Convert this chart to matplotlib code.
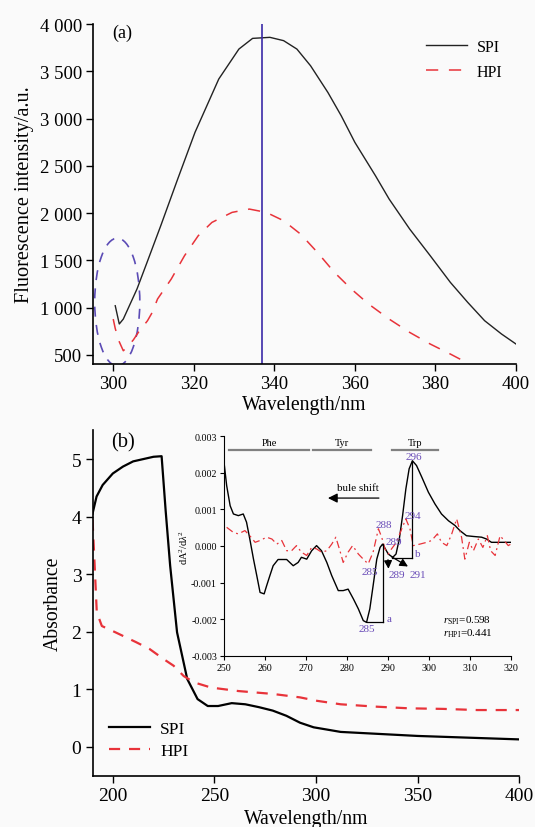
import matplotlib
matplotlib.use("Agg")
import matplotlib.pyplot as plt
from matplotlib.patches import Ellipse
from matplotlib.ticker import FuncFormatter

plt.rcParams['font.family'] = ['Liberation Serif', 'DejaVu Serif']
plt.rcParams['mathtext.fontset'] = 'custom'
plt.rcParams['mathtext.rm'] = 'Liberation Serif'
plt.rcParams['mathtext.it'] = 'Liberation Serif:italic'
plt.rcParams['axes.unicode_minus'] = False

# ---------------- Panel (a): fluorescence ----------------
wl_a_spi = [300.5, 301.5, 302.5, 305.9, 308.4, 311.8, 316.0, 320.3, 326.2, 331.2,
            334.6, 338.9, 342.3, 345.6, 349.0, 353.3, 356.6, 360.0, 365.1, 368.5,
            373.6, 378.7, 383.7, 388.0, 392.2, 396.4, 400.0]
spi_a = [1021, 828, 880, 1198, 1480, 1867, 2360, 2854, 3418, 3735,
         3848, 3859, 3824, 3735, 3558, 3276, 3030, 2748, 2396, 2149,
         1832, 1550, 1268, 1057, 863, 722, 616]
wl_a_hpi = [300.0, 300.5, 301.5, 302.5, 303.5, 305.0, 306.3, 308.5, 309.7, 311.0,
            314.4, 317.7, 321.1, 324.5, 329.5, 333.8, 338.0, 342.3, 346.5, 350.7,
            354.9, 359.1, 363.4, 368.5, 373.6, 378.7, 383.7, 387.6]
hpi_a = [880, 780, 640, 545, 585, 660, 743, 862, 951, 1092,
         1303, 1550, 1761, 1902, 2008, 2043, 2008, 1920, 1779, 1585,
         1374, 1198, 1039, 880, 739, 616, 510, 423]
peak_wl = 337
yticks_a = [500, 1000, 1500, 2000, 2500, 3000, 3500, 4000]
xticks_a = [300, 320, 340, 360, 380, 400]

# ---------------- Panel (b): absorbance ----------------
wl_b_spi = [190, 192, 195, 200, 205, 210, 215, 220, 224, 226, 228.2, 231.6, 236.6,
            241.7, 246.7, 251.8, 258.5, 265.2, 271.9, 278.7, 285.4, 292.1,
            298.8, 305.5, 312.1, 350, 400]
spi_b = [4.05, 4.35, 4.55, 4.75, 4.87, 4.96, 5.0, 5.04, 5.05, 4.1, 3.15, 1.99, 1.18,
         0.83, 0.71, 0.71, 0.76, 0.74, 0.69, 0.63, 0.54, 0.42,
         0.34, 0.30, 0.26, 0.19, 0.13]
wl_b_hpi = [190, 191, 192.1, 194.6, 201.3, 211.4, 218.1, 224.8, 229.9, 234.9, 240,
            248.4, 261.8, 278.7, 292.1, 300.5, 312.1, 328.9, 345.7, 362.5, 379.3, 400]
hpi_b = [3.95, 3.2, 2.34, 2.10, 1.99, 1.82, 1.70, 1.53, 1.41, 1.23, 1.12,
         1.03, 0.97, 0.92, 0.86, 0.80, 0.74, 0.70, 0.67, 0.66, 0.64, 0.64]
yticks_b = [0, 1, 2, 3, 4, 5]
xticks_b = [200, 250, 300, 350, 400]

# ---------------- Inset: second derivative (x1e-3) ----------------
wl_d_spi = [250, 250.65, 251.5, 252.3, 253.5, 254.7, 255.5, 256.3, 257.2, 258.0,
            258.8, 259.8, 260.4, 261.2, 262.0, 263.2, 265.3, 266.9, 268.1, 268.9,
            270.2, 271.4, 272.6, 273.8, 275.1, 276.3, 277.9, 279.1, 280.3, 281.6,
            282.8, 284.0, 284.8, 285.6, 286.4, 287.3, 288.1, 288.7, 289.4, 290.1,
            291.2, 292.0, 292.8, 293.6, 294.4, 295.2, 296.0, 297.0, 298.3, 299.9,
            301.5, 303.1, 304.8, 306.4, 307.6, 309.2, 310.9, 312.9, 314.1, 315.3, 320]
spi_d = [2.29, 1.65, 1.10, 0.875, 0.83, 0.875, 0.65, 0.19, -0.36, -0.81,
         -1.27, -1.31, -1.09, -0.81, -0.54, -0.37, -0.37, -0.54, -0.45, -0.31,
         -0.36, -0.13, 0.01, -0.13, -0.45, -0.81, -1.22, -1.22, -1.18, -1.45,
         -1.72, -2.04, -2.09, -1.72, -1.09, -0.36, -0.04, 0.05, -0.08, -0.22,
         -0.31, -0.22, 0.19, 0.83, 1.56, 2.11, 2.33, 2.2, 1.88, 1.47,
         1.15, 0.875, 0.69, 0.56, 0.42, 0.28, 0.26, 0.24, 0.19, 0.10, 0.10]
wl_d_hpi = [250.65, 252.3, 253.5, 255.1, 256.3, 257.6, 258.8, 260.4, 261.7, 262.9,
            264.1, 265.3, 266.5, 267.7, 268.9, 270.2, 271.4, 272.6, 273.8, 275.1,
            276.3, 277.3, 278.3, 279.1, 280.3, 281.4, 282.8, 284.0, 285.2, 286.4,
            287.7, 288.5, 289.3, 290.1, 290.9, 292.1, 293.4, 294.4, 295.4, 296.2,
            297.8, 299.5, 300.7, 302.1, 303.1, 304.4, 305.6, 306.8, 308.0, 308.8,
            309.9, 310.9, 312.1, 313.2, 314.3, 315.1, 316.2, 317.4, 318.4, 319.4, 320]
hpi_d = [0.51, 0.37, 0.33, 0.42, 0.28, 0.10, 0.15, 0.24, 0.19, 0.05,
         0.15, -0.13, -0.13, 0.01, -0.17, -0.26, -0.04, -0.08, -0.17, -0.13,
         0.05, 0.24, -0.13, -0.45, -0.17, 0.01, -0.22, -0.36, -0.49, -0.17,
         0.47, 0.24, -0.08, -0.22, -0.08, 0.10, 0.47, 0.74, 0.47, 0.01,
         0.05, 0.10, 0.15, 0.33, 0.10, 0.01, 0.33, 0.74, 0.24, -0.36,
         0.10, -0.13, 0.19, -0.04, 0.28, -0.13, -0.26, 0.28, 0.15, 0.01, 0.05]
yticks_d = [-3, -2, -1, 0, 1, 2, 3]
xticks_d = [250, 260, 270, 280, 290, 300, 310, 320]
regions = [("Phe", 251.3, 270.8), ("Tyr", 271.8, 286.0), ("Trp", 290.9, 302.3)]
peak_labels = [("296", 296.4, 2.45), ("294", 296.0, 0.83), ("288", 289.1, 0.60),
               ("289", 291.5, 0.13), ("285", 285.7, -0.70), ("289", 292.1, -0.77),
               ("291", 297.4, -0.77), ("285", 284.8, -2.27), ("a", 290.2, -1.98),
               ("b", 297.4, -0.20)]

BG = '#fafafa'
RED = '#e8333a'
PURPLE = '#6a4db8'
VLINE = '#3b2aa8'

fig = plt.figure(figsize=(5.35, 8.28), dpi=100, facecolor=BG)

# ---------- panel (a) ----------
ax1 = fig.add_axes([0.174, 0.5592, 0.7905, 0.4106], facecolor=BG)
ax1.plot(wl_a_spi, spi_a, color='#222222', lw=1.0, label='SPI')
ax1.plot(wl_a_hpi, hpi_a, color=RED, lw=1.1, dashes=(8, 7), label='HPI')
ax1.axvline(peak_wl, color=VLINE, lw=1.2)
ell = Ellipse((301.0, 1060), 11.2, 1350, fill=False, edgecolor='#5b4bb5',
              lw=1.2, ls=(0, (6, 5)))
ax1.add_patch(ell)
ax1.set_xlim(295.0, 400)
ax1.set_ylim(405, 4000)
ax1.set_xticks(xticks_a)
ax1.set_yticks(yticks_a)
ax1.yaxis.set_major_formatter(FuncFormatter(lambda v, p: f"{v:,.0f}".replace(",", " ")))
ax1.tick_params(labelsize=13.5, direction='out', length=5, width=1, pad=3)
for s in ['top', 'right']:
    ax1.spines[s].set_visible(False)
ax1.spines['left'].set_linewidth(1.2)
ax1.spines['bottom'].set_linewidth(1.2)
ax1.set_xlabel('Wavelength/nm', fontsize=14.2, labelpad=2)
ax1.set_ylabel('Fluorescence intensity/a.u.', fontsize=14.6, labelpad=4)
ax1.text(0.07, 0.976, '(a)', transform=ax1.transAxes, fontsize=13, ha='center', va='center')
ax1.legend(loc='upper left', bbox_to_anchor=(426/535, 1 - 40/828), bbox_transform=fig.transFigure,
           frameon=False, fontsize=11.5, handlelength=2.56, handletextpad=0.62,
           borderpad=0, borderaxespad=0, labelspacing=0.56)

# ---------- panel (b) ----------
ax2 = fig.add_axes([0.1729, 0.0620, 0.7978, 0.4178], facecolor=BG)
ax2.plot(wl_b_spi, spi_b, color='black', lw=1.6, label='SPI')
ax2.plot(wl_b_hpi, hpi_b, color=RED, lw=1.6, dashes=(5, 4), label='HPI')
ax2.set_xlim(190, 400)
ax2.set_ylim(-0.5, 5.51)
ax2.set_xticks(xticks_b)
ax2.set_yticks(yticks_b)
ax2.tick_params(labelsize=14, direction='out', length=5, width=1, pad=3)
for s in ['top', 'right']:
    ax2.spines[s].set_visible(False)
ax2.spines['left'].set_linewidth(1.2)
ax2.spines['bottom'].set_linewidth(1.2)
ax2.set_xlabel('Wavelength/nm', fontsize=14.2, labelpad=4)
ax2.set_ylabel('Absorbance', fontsize=14.2, labelpad=6)
ax2.text(0.071, 0.965, '(b)', transform=ax2.transAxes, fontsize=14.8, ha='center', va='center')
ax2.legend(loc='upper left', bbox_to_anchor=(109/535, 1 - 722/828), bbox_transform=fig.transFigure,
           frameon=False, fontsize=12.5, handlelength=2.37, handletextpad=0.58,
           borderpad=0, borderaxespad=0, labelspacing=0.35)

# ---------- inset ----------
ax3 = fig.add_axes([0.4187, 0.2069, 0.5359, 0.2650], facecolor='none')
ax3.plot(wl_d_spi, spi_d, color='black', lw=1.0)
ax3.plot(wl_d_hpi, hpi_d, color=RED, lw=0.9, ls=(0, (6, 3, 1.5, 3)))
ax3.set_xlim(250, 320)
ax3.set_ylim(-3, 3)
ax3.set_xticks(xticks_d)
ax3.set_yticks(yticks_d)
ax3.yaxis.set_major_formatter(FuncFormatter(lambda v, p: f"{v/1000:.3f}"))
ax3.tick_params(labelsize=7.2, direction='out', length=3, width=0.8, pad=2)
for s in ['top', 'right']:
    ax3.spines[s].set_visible(False)
ax3.set_ylabel(r'dA$^2$/d$\lambda^2$', fontsize=7.5, labelpad=1)

for name, x0, x1 in regions:
    ax3.plot([x0, x1], [2.63, 2.63], color='#808080', lw=1.6)
    ax3.text((x0 + x1) / 2, 2.70, name, fontsize=7.5, ha='center', va='bottom')

for txt, x, y in peak_labels:
    ax3.text(x, y, txt, fontsize=8, color=PURPLE, ha='center', va='center')

# guide lines
ax3.plot([288.9, 288.9], [0.05, -2.07], color='black', lw=0.9)
ax3.plot([284.8, 288.9], [-2.07, -2.07], color='black', lw=0.9)
ax3.plot([295.9, 295.9], [2.33, -0.32], color='black', lw=0.9)
ax3.plot([290.9, 295.9], [-0.32, -0.32], color='black', lw=0.9)

# arrows
ax3.annotate('', xy=(274.7, 1.31), xytext=(288.5, 1.31),
             arrowprops=dict(arrowstyle='-|>', color='black', lw=0.9, mutation_scale=14))
ax3.text(282.8, 1.59, 'bule shift', fontsize=8, ha='center', va='center')
ax3.annotate('', xy=(290.2, -0.70), xytext=(290.0, -0.30),
             arrowprops=dict(arrowstyle='-|>', color='black', lw=0.9, mutation_scale=12))
ax3.annotate('', xy=(295.5, -0.60), xytext=(290.4, -0.26),
             arrowprops=dict(arrowstyle='-|>', color='black', lw=0.9, mutation_scale=12))

ax3.text(303.5, -2.02, r'$r_{\rm SPI}$=0.598', fontsize=8, ha='left', va='center')
ax3.text(303.5, -2.36, r'$r_{\rm HPI}$=0.441', fontsize=8, ha='left', va='center')

fig.savefig('out.png', dpi=100, facecolor=BG)
